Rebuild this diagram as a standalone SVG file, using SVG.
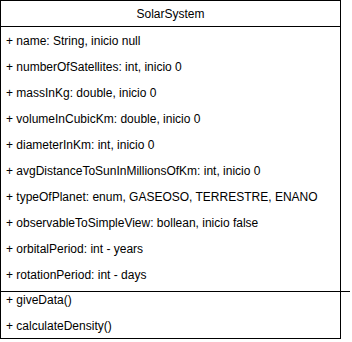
<svg xmlns="http://www.w3.org/2000/svg" width="352" height="342" viewBox="0 0 352 342">
  <style>
    .box { fill: #ffffff; stroke: #000000; stroke-width: 1; }
    .sep { stroke: #000000; stroke-width: 1; fill: none; }
    .title { font-family: "Liberation Sans", Arial, sans-serif; font-size: 12px; fill: #000000; text-anchor: middle; }
    .member { font-family: "Liberation Sans", Arial, sans-serif; font-size: 12px; fill: #000000; }
  </style>
  <rect width="352" height="342" fill="#ffffff"/>
  <g id="SolarSystem">
    <rect class="box" x="0.5" y="0.5" width="340" height="338"/>
    <line class="sep" x1="0.5" y1="26.5" x2="340.5" y2="26.5"/>
    <text class="title" x="170.5" y="18">SolarSystem</text>
    <g id="attributes">
      <text class="member" x="6" y="45">+ name: String, inicio null</text>
      <text class="member" x="6" y="71">+ numberOfSatellites: int, inicio 0</text>
      <text class="member" x="6" y="97">+ massInKg: double, inicio 0</text>
      <text class="member" x="6" y="123">+ volumeInCubicKm: double, inicio 0</text>
      <text class="member" x="6" y="149">+ diameterInKm: int, inicio 0</text>
      <text class="member" x="6" y="175">+ avgDistanceToSunInMillionsOfKm: int, inicio 0</text>
      <text class="member" x="6" y="201">+ typeOfPlanet: enum, GASEOSO, TERRESTRE, ENANO</text>
      <text class="member" x="6" y="227">+ observableToSimpleView: bollean, inicio false</text>
      <text class="member" x="6" y="253">+ orbitalPeriod: int - years</text>
      <text class="member" x="6" y="279">+ rotationPeriod: int - days</text>
    </g>
    <line class="sep" x1="0.5" y1="291.5" x2="350" y2="291.5"/>
    <g id="operations">
      <text class="member" x="6" y="304">+ giveData()</text>
      <text class="member" x="6" y="330">+ calculateDensity()</text>
    </g>
  </g>
</svg>
